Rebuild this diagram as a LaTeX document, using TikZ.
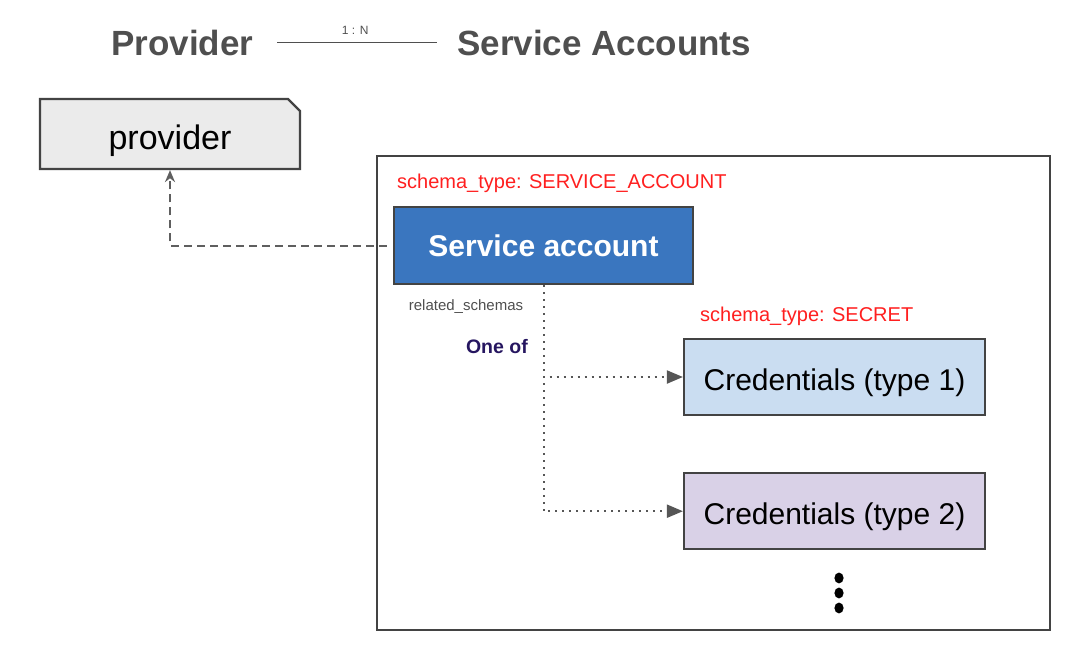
\documentclass[tikz,border=0pt]{standalone}
\usepackage{fontspec}
\setmainfont{Liberation Sans}
\usetikzlibrary{arrows.meta,positioning,shapes.misc}
\definecolor{titlegray}{HTML}{4F4F4F}
\definecolor{edgegray}{HTML}{434343}
\definecolor{sablue}{HTML}{3A76BF}
\definecolor{credblue}{HTML}{CADDF1}
\definecolor{credpurple}{HTML}{D9D1E7}
\definecolor{provfill}{HTML}{EBEBEB}
\definecolor{schemared}{HTML}{FF1F1F}
\definecolor{oneofpurple}{HTML}{261660}
\tikzset{
every node/.style={inner sep=0pt}, % text sits right on the anchors
title/.style={font=\fontsize{35}{40}\selectfont\bfseries, text=titlegray},
box/.style={draw=edgegray, line width=2.2pt, minimum width=300pt, minimum height=76pt,
  font=\fontsize{30}{34}\selectfont},
lowtext/.style={text height=27pt, text depth=0pt}, % baseline a bit lower, as in the slides
schematype/.style={font=\fontsize{20}{24}\selectfont, text=schemared},
dashline/.style={draw=edgegray!85, line width=2pt, dash pattern=on 8pt off 5pt, -{Stealth[length=12pt,width=10pt]}},
dotline/.style={draw=edgegray!90, line width=2pt, dash pattern=on 2pt off 5pt, -{Triangle[length=16pt,width=13pt]}},
}
\begin{document}
\begin{tikzpicture}[x=1pt,y=-1pt]
\useasboundingbox (0,0) rectangle (1089,667);
% heading
\node[title, anchor=base west] (provtitle) at (111,55) {Provider};
\node[title, anchor=base west] (satitle) at (457,55) {Service Accounts};
\draw[titlegray, line width=1.8pt, shorten <=24pt, shorten >=20pt] (provtitle.east) -- (satitle.west)
  node[midway, above=7pt, font=\fontsize{12}{14}\selectfont, text=titlegray] {1 : N};
% provider
\node[box, lowtext, text height=31pt, chamfered rectangle, chamfered rectangle corners=north east, chamfered rectangle xsep=6pt,
  chamfered rectangle ysep=6pt, chamfered rectangle angle=45,
  fill=provfill, minimum width=260pt, minimum height=70pt, font=\fontsize{34}{38}\selectfont] (provider) at (170,134) {provider};
% frame
\node[draw=edgegray, line width=1.6pt, minimum width=673pt, minimum height=474pt] (frame) at (713.5,393) {};
\node[schematype, anchor=west] (satype) at (397,183) {schema\_type: SERVICE\_ACCOUNT};
\node[box, fill=sablue, text=white, font=\fontsize{30}{34}\selectfont\bfseries, minimum width=299pt, minimum height=77pt] (sacc) at (543.5,245.5) {Service account};
\node[schematype, anchor=west] (secrettype) at (700,316) {schema\_type: SECRET};
\node[box, lowtext, fill=credblue, minimum width=301pt] (cred1) at (834.5,377) {Credentials (type 1)};
\node[box, lowtext, fill=credpurple, minimum width=301pt, below=56pt of cred1] (cred2) {Credentials (type 2)};
\node[font=\fontsize{15}{18}\selectfont, text=titlegray] (related) at (466,307) {related\_schemas};
\node[font=\fontsize{19.5}{22}\selectfont\bfseries, text=oneofpurple, anchor=east] (oneof) at (528,347) {One of};
% connectors
\draw[dashline] ([xshift=-6pt]sacc.west) -| (provider.south);
\draw[dotline] (sacc.south) |- (cred1.west);
\draw[dotline] (sacc.south) |- (cred2.west);
% more to come
\foreach \y in {578,593,608}
  \fill (839,\y) ellipse (4.6pt and 5.4pt);
\end{tikzpicture}
\end{document}
